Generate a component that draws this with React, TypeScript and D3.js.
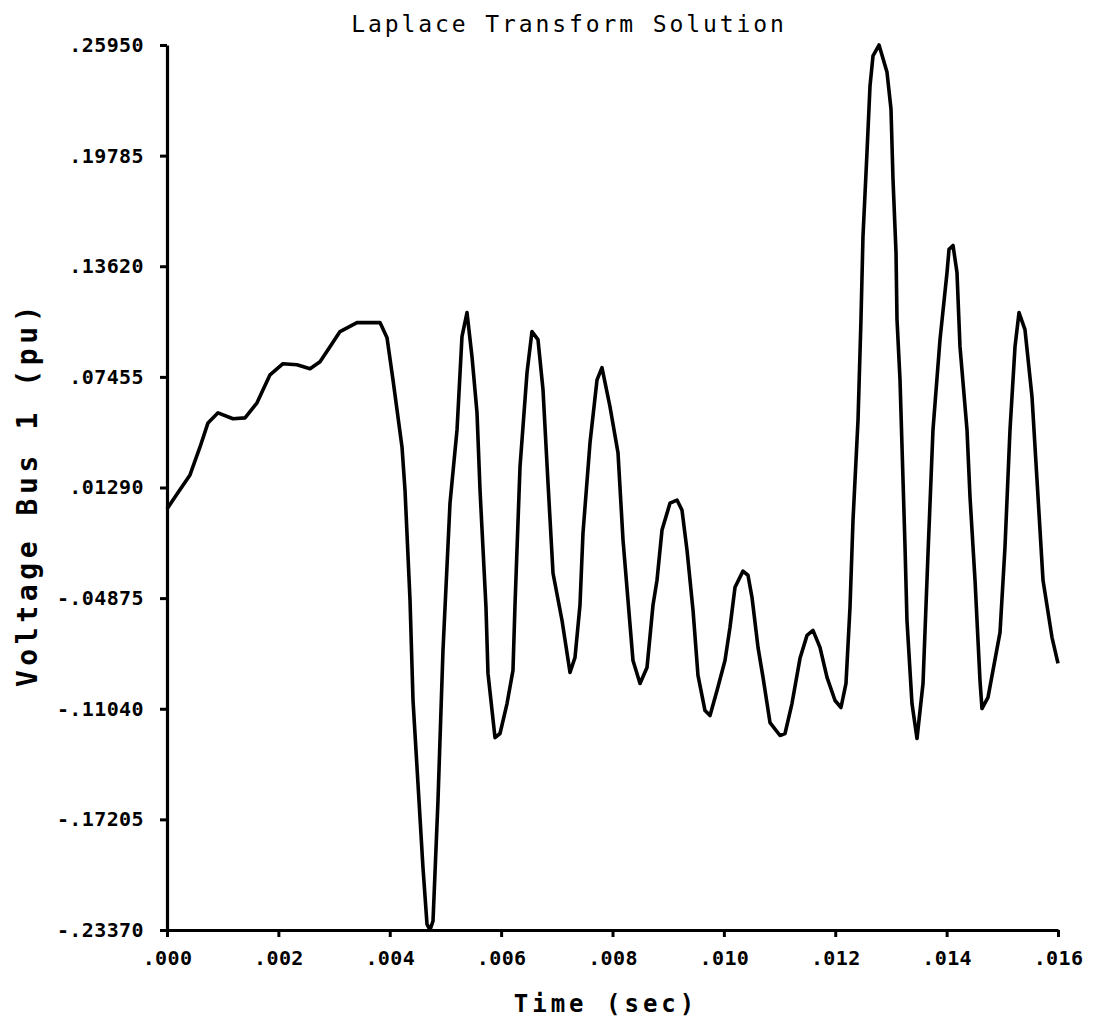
import React, { useEffect, useRef } from 'react';
import * as d3 from 'd3';

// time axis (sec) and bus voltage (pu)
const timeSec = [
  0, 0.000144, 0.000413, 0.000593, 0.000736, 0.000916, 0.001185, 0.001401, 0.001616, 0.00185,
  0.002083, 0.002334, 0.002568, 0.002748, 0.002927, 0.003107, 0.003412, 0.003825, 0.003951, 0.004058,
  0.00422, 0.004274, 0.004364, 0.004418, 0.004507, 0.004597, 0.004669, 0.004723, 0.004777, 0.004866,
  0.004956, 0.005082, 0.005208, 0.005297, 0.005387, 0.005477, 0.005567, 0.005621, 0.005728, 0.005764,
  0.00589, 0.00598, 0.006106, 0.006213, 0.006249, 0.006339, 0.006465, 0.006554, 0.006662, 0.006752,
  0.006842, 0.006932, 0.007093, 0.007237, 0.007327, 0.007416, 0.00747, 0.007596, 0.007722, 0.007811,
  0.007955, 0.008099, 0.008189, 0.008278, 0.008368, 0.008494, 0.00862, 0.008727, 0.008799, 0.008889,
  0.009033, 0.009158, 0.009248, 0.009338, 0.009446, 0.009535, 0.009661, 0.009751, 0.009877, 0.01002,
  0.01011, 0.0102, 0.010343, 0.010433, 0.010505, 0.010613, 0.010703, 0.010828, 0.011008, 0.011098,
  0.011223, 0.011367, 0.011493, 0.0116, 0.011726, 0.011852, 0.011996, 0.012103, 0.012193, 0.012265,
  0.012319, 0.012409, 0.012462, 0.012498, 0.01257, 0.012624, 0.012678, 0.012786, 0.012929, 0.013001,
  0.013037, 0.013091, 0.013109, 0.013163, 0.013253, 0.013288, 0.013378, 0.013468, 0.013576, 0.013666,
  0.013755, 0.013881, 0.014007, 0.014043, 0.014115, 0.014186, 0.01424, 0.014366, 0.01442, 0.01451,
  0.014599, 0.014635, 0.014743, 0.014959, 0.015048, 0.015138, 0.015228, 0.0153, 0.015407, 0.015533,
  0.015623, 0.015731, 0.015892, 0.016,
];

const voltagePu = [
  0.0009, 0.0076, 0.0199, 0.0355, 0.0489, 0.0545, 0.0512, 0.0517, 0.0601, 0.0757,
  0.0819, 0.0813, 0.0791, 0.083, 0.0914, 0.0998, 0.1048, 0.1048, 0.0964, 0.0729,
  0.0355, 0.0115, -0.0499, -0.1058, -0.1522, -0.1991, -0.2304, -0.2337, -0.2287, -0.1617,
  -0.0779, 0.0042, 0.045, 0.097, 0.1104, 0.0858, 0.0545, 0.0115, -0.0538, -0.0907,
  -0.1265, -0.1242, -0.1075, -0.089, -0.0527, 0.0244, 0.0769, 0.0998, 0.0953, 0.0674,
  0.0154, -0.0349, -0.0611, -0.0902, -0.0818, -0.0527, -0.0125, 0.0378, 0.0729, 0.0797,
  0.0579, 0.0322, -0.0164, -0.0499, -0.0835, -0.0963, -0.0874, -0.0527, -0.0388, -0.0108,
  0.0042, 0.0059, 0.0003, -0.022, -0.0555, -0.0918, -0.1114, -0.1142, -0.1002, -0.0835,
  -0.065, -0.0427, -0.0337, -0.036, -0.0483, -0.0762, -0.0929, -0.1181, -0.1253, -0.1242,
  -0.1075, -0.0823, -0.0695, -0.0667, -0.0762, -0.0929, -0.1058, -0.1097, -0.0963, -0.0538,
  -0.0053, 0.0506, 0.1065, 0.1528, 0.1997, 0.2366, 0.2534, 0.2595, 0.2444, 0.2238,
  0.1847, 0.1439, 0.1065, 0.0729, -0.0203, -0.0611, -0.1075, -0.127, -0.0963, -0.0237,
  0.045, 0.0953, 0.1327, 0.1456, 0.1478, 0.1327, 0.0914, 0.045, 0.0076, -0.0388,
  -0.0946, -0.1103, -0.1041, -0.0678, -0.0203, 0.045, 0.0914, 0.1104, 0.1009, 0.0635,
  0.0171, -0.0388, -0.0706, -0.0851,
];

const yTickValues = [0.2595, 0.19785, 0.1362, 0.07455, 0.0129, -0.04875, -0.1104, -0.17205, -0.2337];
const yTickLabels = ['.25950', '.19785', '.13620', '.07455', '.01290', '-.04875', '-.11040', '-.17205', '-.23370'];
const xTickValues = [0, 0.002, 0.004, 0.006, 0.008, 0.01, 0.012, 0.014, 0.016];
const xTickLabels = ['.000', '.002', '.004', '.006', '.008', '.010', '.012', '.014', '.016'];

const FONT = '"DejaVu Sans Mono", "Liberation Mono", monospace';

const App = () => {
  const svgRef = useRef<SVGSVGElement>(null);

  useEffect(() => {
    const width = 1094;
    const height = 1023;
    const margin = { top: 45, right: 36, bottom: 93, left: 167 };

    const svg = d3.select(svgRef.current);
    svg.selectAll('*').remove();

    svg.append('rect').attr('width', width).attr('height', height).attr('fill', '#fff');

    const x = d3.scaleLinear().domain([0, 0.016]).range([margin.left, width - margin.right]);
    const y = d3.scaleLinear().domain([-0.2337, 0.2595]).range([height - margin.bottom, margin.top]);

    const yAxis = svg
      .append('g')
      .attr('transform', `translate(${margin.left},0)`)
      .call(
        d3
          .axisLeft(y)
          .tickValues(yTickValues)
          .tickSize(7)
          .tickSizeOuter(0)
          .tickPadding(16)
          .tickFormat((d, i) => yTickLabels[i])
      );

    const xAxis = svg
      .append('g')
      .attr('transform', `translate(0,${height - margin.bottom})`)
      .call(
        d3
          .axisBottom(x)
          .tickValues(xTickValues)
          .tickSize(7)
          .tickSizeOuter(0)
          .tickPadding(14)
          .tickFormat((d, i) => xTickLabels[i])
      );

    [yAxis, xAxis].forEach((g) => {
      g.select('.domain').attr('stroke', '#000').attr('stroke-width', 3.2);
      g.selectAll('.tick line').attr('stroke', '#000').attr('stroke-width', 3);
      g.selectAll('.tick text')
        .attr('fill', '#000')
        .style('font-family', FONT)
        .style('font-size', '20px')
        .style('font-weight', 'bold')
        .style('letter-spacing', '0.4px');
    });

    const line = d3
      .line<number>()
      .x((d, i) => x(timeSec[i]))
      .y((d) => y(d))
      .curve(d3.curveLinear);

    svg
      .append('path')
      .datum(voltagePu)
      .attr('fill', 'none')
      .attr('stroke', '#000')
      .attr('stroke-width', 3.6)
      .attr('stroke-linejoin', 'round')
      .attr('d', line);

    svg
      .append('text')
      .attr('x', 569)
      .attr('y', 32)
      .attr('text-anchor', 'middle')
      .style('font-family', FONT)
      .style('font-size', '23px')
      .style('letter-spacing', '2.9px')
      .text('Laplace Transform Solution');

    svg
      .append('text')
      .attr('x', 606)
      .attr('y', 1012)
      .attr('text-anchor', 'middle')
      .style('font-family', FONT)
      .style('font-size', '24px')
      .style('font-weight', 'bold')
      .style('letter-spacing', '4px')
      .text('Time (sec)');

    svg
      .append('text')
      .attr('transform', 'translate(37,494) rotate(-90)')
      .attr('text-anchor', 'middle')
      .style('font-family', FONT)
      .style('font-size', '28px')
      .style('font-weight', 'bold')
      .style('letter-spacing', '4.6px')
      .text('Voltage Bus 1 (pu)');
  }, []);

  return (
    <svg
      ref={svgRef}
      width={1094}
      height={1023}
      style={{ position: 'absolute', left: 0, top: 0, display: 'block' }}
    />
  );
};

export default App;
